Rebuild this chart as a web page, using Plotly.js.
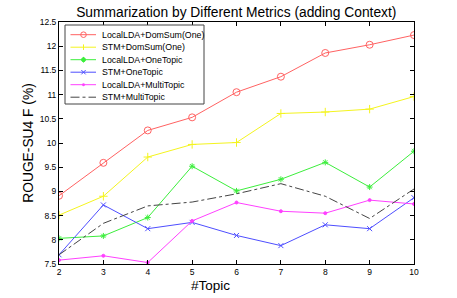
<!DOCTYPE html>
<html><head><meta charset="utf-8">
<script src="https://cdn.plot.ly/plotly-3.0.1.min.js"></script>
<style>html,body{margin:0;padding:0;background:#fff}#c{width:457px;height:298px}</style>
</head><body><div id="c"></div>
<script>
const topics = [2,3,4,5,6,7,8,9,10];
const localLdaDomSum = [8.91,9.59,10.26,10.53,11.05,11.37,11.86,12.03,12.23];
const stmDomSum = [8.51,8.90,9.71,9.97,10.01,10.61,10.64,10.70,10.96];
const localLdaOneTopic = [8.03,8.08,8.46,9.52,9.01,9.25,9.60,9.09,9.83];
const stmOneTopic = [7.69,8.72,8.23,8.36,8.09,7.88,8.31,8.23,8.87];
const localLdaMultiTopic = [7.58,7.67,7.53,8.39,8.77,8.59,8.55,8.82,8.74];
const stmMultiTopic = [7.69,8.34,8.70,8.78,8.95,9.16,8.90,8.44,9.05];
const seriesNames = ['LocalLDA+DomSum(One)','STM+DomSum(One)','LocalLDA+OneTopic','STM+OneTopic','LocalLDA+MultiTopic','STM+MultiTopic'];
const yTicks = [7.5,8,8.5,9,9.5,10,10.5,11,11.5,12,12.5];

const styles = [
  {color:'#ff6262', symbol:'circle-open', size:7, dash:'solid', key:'o'},
  {color:'#f4f41e', symbol:'cross-thin-open', size:6, dash:'solid', key:'+'},
  {color:'#3cee3c', symbol:'asterisk-open', size:5, dash:'solid', key:'*'},
  {color:'#4e4eff', symbol:'x-thin-open', size:5, dash:'solid', key:'x'},
  {color:'#ff40ff', symbol:'circle', size:3, dash:'solid', key:'.'},
  {color:'#444444', symbol:'circle', size:0, dash:'dashdot', key:''}
];
const ys = [localLdaDomSum, stmDomSum, localLdaOneTopic, stmOneTopic, localLdaMultiTopic, stmMultiTopic];
const data = ys.map((y,i)=>({
  x: topics, y: y, name: seriesNames[i], type:'scatter',
  mode: i===5 ? 'lines' : 'lines+markers',
  line:{color:styles[i].color, width:1, dash:styles[i].dash},
  marker:{symbol:styles[i].symbol, size:styles[i].size, color:styles[i].color, line:{color:styles[i].color, width:1}},
  showlegend:false
}));

// plot area geometry in pixels (for the hand-drawn legend box)
const W=457, H=298, ML=59, MR=43, MT=22, MB=34;
const PW=W-ML-MR, PH=H-MT-MB;
const px=(x)=>(x-ML)/PW, py=(y)=>(H-MB-y)/PH;
const shapes=[], annotations=[];
shapes.push({type:'rect', xref:'paper', yref:'paper', x0:px(65), x1:px(204), y0:py(25), y1:py(104),
  line:{color:'#444', width:1}, fillcolor:'#fff', layer:'above'});
const rowY0=34.7, rowStep=12.5, lx0=70.5, lx1=96, mx=83.5, tx=100;
seriesNames.forEach((n,i)=>{
  const yy=rowY0+i*rowStep, s=styles[i];
  const L={color:s.color, width:1, dash:s.dash};
  shapes.push({type:'line', xref:'paper', yref:'paper', x0:px(lx0), x1:px(lx1), y0:py(yy), y1:py(yy), line:L, layer:'above'});
  const r=2.8;
  if(s.key==='o') shapes.push({type:'circle', xref:'paper', yref:'paper', x0:px(mx-r), x1:px(mx+r), y0:py(yy-r), y1:py(yy+r), line:{color:s.color,width:1}, fillcolor:'rgba(0,0,0,0)', layer:'above'});
  if(s.key==='+'||s.key==='*'){
    shapes.push({type:'line', xref:'paper', yref:'paper', x0:px(mx), x1:px(mx), y0:py(yy-r), y1:py(yy+r), line:{color:s.color,width:1}, layer:'above'});
  }
  if(s.key==='*'){
    shapes.push({type:'circle', xref:'paper', yref:'paper', x0:px(mx-2), x1:px(mx+2), y0:py(yy-2), y1:py(yy+2), line:{color:s.color,width:1}, fillcolor:s.color, layer:'above'});
  }
  if(s.key==='x'){
    shapes.push({type:'line', xref:'paper', yref:'paper', x0:px(mx-2.2), x1:px(mx+2.2), y0:py(yy-2.2), y1:py(yy+2.2), line:{color:s.color,width:1}, layer:'above'});
    shapes.push({type:'line', xref:'paper', yref:'paper', x0:px(mx-2.2), x1:px(mx+2.2), y0:py(yy+2.2), y1:py(yy-2.2), line:{color:s.color,width:1}, layer:'above'});
  }
  if(s.key==='.') shapes.push({type:'circle', xref:'paper', yref:'paper', x0:px(mx-1.2), x1:px(mx+1.2), y0:py(yy-1.2), y1:py(yy+1.2), line:{color:s.color,width:0.5}, fillcolor:s.color, layer:'above'});
  annotations.push({text:n, xref:'paper', yref:'paper', x:px(tx), y:py(yy), xanchor:'left', yanchor:'middle', showarrow:false, font:{size:8.8, color:'#000'}});
});
annotations.push({text:'#Topic', xref:'paper', yref:'paper', x:px(210.5), y:py(285.5), xanchor:'center', yanchor:'middle', showarrow:false, font:{size:13.5, color:'#000'}});

const layout = {
  width:W, height:H,
  margin:{l:ML, r:MR, t:MT, b:MB, pad:0},
  paper_bgcolor:'#fff', plot_bgcolor:'#fff',
  font:{family:'Liberation Sans, Arial, sans-serif', color:'#000'},
  title:{text:'Summarization by Different Metrics (adding Context)', font:{size:13.8}, x:0.517, xanchor:'center', y:0.96, yanchor:'middle'},
  xaxis:{range:[2,10], tickvals:topics, ticktext:topics.map(String), ticks:'inside', ticklen:4, tickcolor:'#000',
    showline:true, linecolor:'#000', linewidth:1, mirror:'allticks', showgrid:false, zeroline:false,
    tickfont:{size:8.5}},
  yaxis:{range:[7.5,12.5], tickvals:yTicks, ticktext:yTicks.map(String), ticks:'inside', ticklen:4, tickcolor:'#000',
    showline:true, linecolor:'#000', linewidth:1, mirror:'allticks', showgrid:false, zeroline:false,
    tickfont:{size:8.5}, title:{text:'ROUGE-SU4 F (%)', font:{size:13.8}, standoff:2}},
  shapes:shapes, annotations:annotations,
  showlegend:false
};
Plotly.newPlot('c', data, layout, {staticPlot:true, displayModeBar:false});
</script></body></html>
